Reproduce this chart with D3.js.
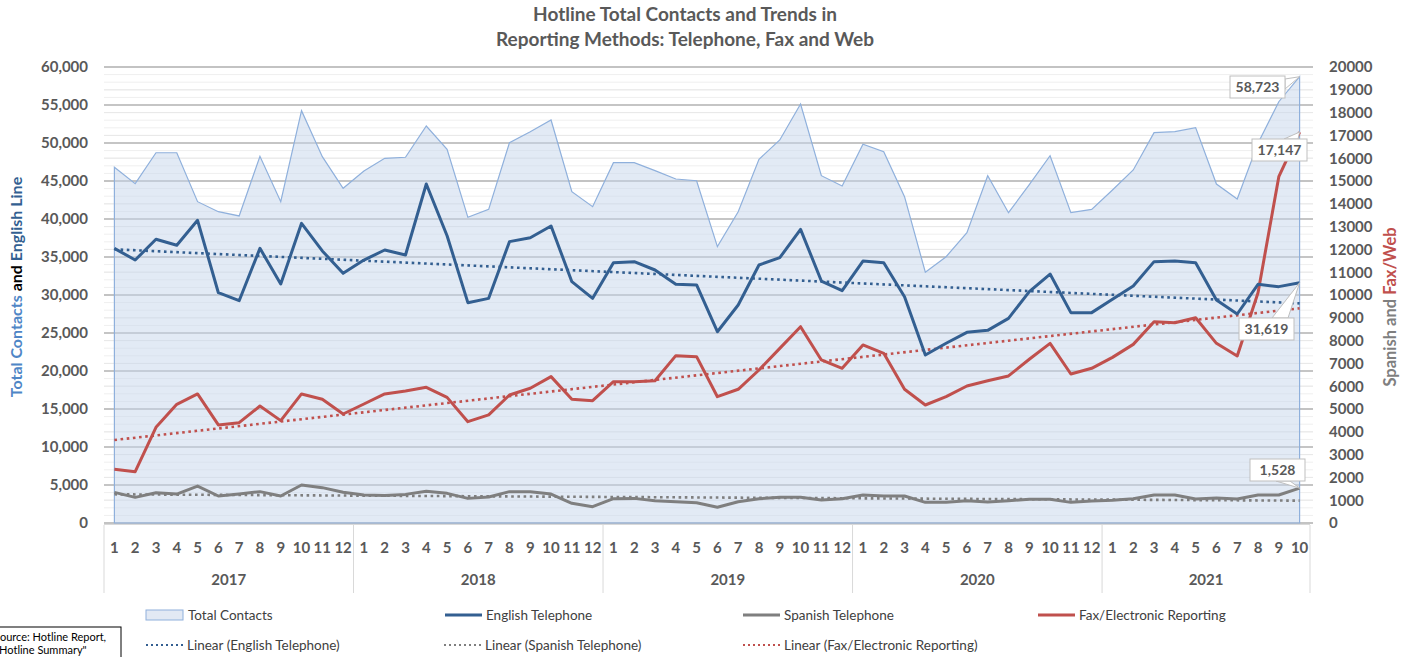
<!DOCTYPE html>
<html>
<head>
<meta charset="utf-8">
<script src="https://cdn.jsdelivr.net/npm/d3@7"></script>
<style>
  body { margin: 0; background: #fff; }
  svg { display: block; }
  text { font-family: Lato, "Open Sans", sans-serif; }
</style>
</head>
<body>
<script>
// values
var years = ["2017", "2018", "2019", "2020", "2021"];
var monthsPerYear = [12, 12, 12, 12, 10];
var months = [];
monthsPerYear.forEach(n => { for (var m = 1; m <= n; m++) months.push(String(m)); });

var totalContacts = [46800, 44650, 48720, 48720, 42280, 40960, 40400, 48250, 42280, 54250, 48200, 44040,
  46320, 47990, 48120, 52240, 49170, 40220, 41270, 50040, 51490, 53030, 43600, 41620,
  47410, 47410, 46360, 45260, 45040, 36360, 40960, 47850, 50400, 55130, 45700, 44340,
  49830, 48860, 42940, 32990, 35040, 38200, 45700, 40830, 44510, 48330, 40830, 41270,
  43820, 46450, 51360, 51490, 52020, 44600, 42630, 49960, 55430, 58723];
var englishPhone = [36140, 34600, 37330, 36540, 39830, 30300, 29250, 36140, 31450, 39430, 35800, 32850,
  34600, 35920, 35260, 44600, 37800, 28990, 29560, 37020, 37540, 39080, 31750, 29560,
  34250, 34390, 33290, 31410, 31320, 25170, 28680, 33950, 34910, 38640, 31840, 30570,
  34470, 34250, 29780, 22100, 23650, 25090, 25350, 26930, 30440, 32760, 27680, 27680,
  29430, 31180, 34390, 34470, 34250, 29340, 27500, 31400, 31100, 31619];
var spanishPhone = [1345, 1125, 1330, 1270, 1620, 1185, 1270, 1375, 1185, 1665, 1550, 1345,
  1230, 1210, 1255, 1390, 1300, 1080, 1140, 1375, 1375, 1270, 865, 715,
  1065, 1080, 980, 935, 890, 690, 935, 1065, 1125, 1125, 1010, 1065,
  1230, 1185, 1185, 905, 905, 980, 920, 980, 1040, 1040, 905, 965,
  995, 1065, 1230, 1230, 1055, 1095, 1055, 1230, 1230, 1528];
var faxWeb = [2355, 2250, 4195, 5205, 5660, 4300, 4400, 5130, 4490, 5660, 5425, 4780,
  5220, 5660, 5790, 5950, 5510, 4445, 4740, 5615, 5910, 6420, 5425, 5365,
  6200, 6200, 6240, 7340, 7295, 5540, 5865, 6710, 7660, 8610, 7150, 6785,
  7810, 7440, 5865, 5175, 5540, 6010, 6240, 6450, 7180, 7880, 6535, 6785,
  7265, 7835, 8830, 8785, 9005, 7880, 7325, 10100, 15190, 17147];

// linear trendlines: value at first and last month
var englishTrend = [36010, 28900];
var spanishTrend = [1258, 980];
var faxTrend = [3640, 9415];

var leftTicks = d3.range(0, 60001, 5000);
var rightTicks = d3.range(0, 20001, 1000);

var blue = "#335f91", red = "#c0504d", gray = "#7f7f7f";
var areaFill = "#c5d5ec", areaLine = "#8fb0dc", textCol = "#595959";

var width = 1413, height = 657;
var plotLeft = 104, plotRight = 1310, plotTop = 67, plotBottom = 523;

var svg = d3.select("body").append("svg")
  .attr("width", width)
  .attr("height", height);

var x = d3.scaleBand().domain(d3.range(months.length)).range([plotLeft, plotRight]);
var cx = i => x(i) + x.bandwidth() / 2;
var yL = d3.scaleLinear().domain([0, 60000]).range([plotBottom, plotTop]);
var yR = d3.scaleLinear().domain([0, 20000]).range([plotBottom, plotTop]);

// title
svg.append("text").attr("x", 685).attr("y", 21).attr("text-anchor", "middle")
  .attr("font-size", 19).attr("font-weight", "bold").attr("fill", textCol)
  .text("Hotline Total Contacts and Trends in");
svg.append("text").attr("x", 685).attr("y", 46).attr("text-anchor", "middle")
  .attr("font-size", 19).attr("font-weight", "bold").attr("fill", textCol)
  .text("Reporting Methods: Telephone, Fax and Web");

// gridlines
var grid = svg.append("g");
grid.selectAll(".minor").data(d3.range(0, 60001, 1000))
  .enter().append("line")
  .attr("x1", plotLeft).attr("x2", plotRight + 3)
  .attr("y1", d => yL(d)).attr("y2", d => yL(d))
  .attr("stroke", "#efefef").attr("stroke-width", 1);
grid.selectAll(".rminor").data(rightTicks)
  .enter().append("line")
  .attr("x1", plotLeft).attr("x2", plotRight + 3)
  .attr("y1", d => yR(d)).attr("y2", d => yR(d))
  .attr("stroke", "#e8e8e8").attr("stroke-width", 1);
grid.selectAll(".major").data(leftTicks)
  .enter().append("line")
  .attr("x1", plotLeft).attr("x2", plotRight + 3)
  .attr("y1", d => yL(d)).attr("y2", d => yL(d))
  .attr("stroke", "#b5b5b5").attr("stroke-width", 1.3);

// total contacts area
var area = d3.area()
  .x((d, i) => cx(i))
  .y0(plotBottom)
  .y1(d => yL(d));
svg.append("path")
  .attr("d", area(totalContacts))
  .attr("fill", areaFill).attr("fill-opacity", 0.5)
  .attr("stroke", areaLine).attr("stroke-width", 1.2);

// trendlines
var trend = (vals, scale) => d3.line()
  .x(d => cx(d[0]))
  .y(d => scale(d[1]))([[0, vals[0]], [months.length - 1, vals[1]]]);
[[spanishTrend, yR, gray], [faxTrend, yR, red], [englishTrend, yL, blue]].forEach(t => {
  svg.append("path")
    .attr("d", trend(t[0], t[1]))
    .attr("fill", "none").attr("stroke", t[2])
    .attr("stroke-width", 2.6).attr("stroke-dasharray", "2.6,3.6");
});

// series lines
var lineL = d3.line().x((d, i) => cx(i)).y(d => yL(d));
var lineR = d3.line().x((d, i) => cx(i)).y(d => yR(d));
svg.append("path").attr("d", lineR(spanishPhone))
  .attr("fill", "none").attr("stroke", gray).attr("stroke-width", 3).attr("stroke-linejoin", "round");
svg.append("path").attr("d", lineR(faxWeb))
  .attr("fill", "none").attr("stroke", red).attr("stroke-width", 3).attr("stroke-linejoin", "round");
svg.append("path").attr("d", lineL(englishPhone))
  .attr("fill", "none").attr("stroke", blue).attr("stroke-width", 3).attr("stroke-linejoin", "round");

// left axis
var axL = svg.append("g").attr("transform", "translate(" + plotLeft + ",0)")
  .call(d3.axisLeft(yL).tickValues(leftTicks).tickFormat(d3.format(",")).tickSize(0).tickPadding(16));
axL.select(".domain").remove();
axL.selectAll("text").attr("font-size", 15).attr("font-weight", "bold").attr("fill", textCol)
  .attr("font-family", "Lato, sans-serif");

// right axis
var axR = svg.append("g").attr("transform", "translate(" + plotRight + ",0)")
  .call(d3.axisRight(yR).tickValues(rightTicks).tickFormat(d3.format("d")).tickSize(0).tickPadding(19));
axR.select(".domain").remove();
axR.selectAll("text").attr("font-size", 15).attr("font-weight", "bold").attr("fill", textCol)
  .attr("font-family", "Lato, sans-serif");

// category axis (months + years)
svg.append("line").attr("x1", plotLeft).attr("x2", plotRight).attr("y1", plotBottom + 1.5).attr("y2", plotBottom + 1.5)
  .attr("stroke", "#d9d9d9");
var axX = svg.append("g").attr("transform", "translate(0," + plotBottom + ")")
  .call(d3.axisBottom(x).tickFormat(i => months[i]).tickSize(0).tickPadding(19));
axX.select(".domain").remove();
axX.selectAll("text").attr("font-size", 15).attr("font-weight", "bold").attr("fill", textCol)
  .attr("font-family", "Lato, sans-serif");

var start = 0;
var bounds = [0];
monthsPerYear.forEach(n => { start += n; bounds.push(start); });
var bx = k => bounds[k] < months.length ? x(bounds[k]) : plotRight;
svg.selectAll(".ysep").data(bounds).enter().append("line")
  .attr("x1", (d, k) => bx(k)).attr("x2", (d, k) => bx(k))
  .attr("y1", plotBottom + 2).attr("y2", 593)
  .attr("stroke", "#d9d9d9");
svg.selectAll(".ylab").data(years).enter().append("text")
  .attr("x", (d, k) => (bx(k) + bx(k + 1)) / 2)
  .attr("y", 585).attr("text-anchor", "middle")
  .attr("font-size", 15).attr("font-weight", "bold").attr("fill", textCol)
  .text(d => d);

// axis titles
var lt = svg.append("text").attr("transform", "translate(22,287) rotate(-90)")
  .attr("text-anchor", "middle").attr("font-size", 16).attr("font-weight", "bold");
lt.append("tspan").attr("fill", "#4f86c6").text("Total Contacts ");
lt.append("tspan").attr("fill", "#000").text("and ");
lt.append("tspan").attr("fill", blue).text("English Line");
var rt = svg.append("text").attr("transform", "translate(1396,307) rotate(-90)")
  .attr("text-anchor", "middle").attr("font-size", 16.5).attr("font-weight", "bold");
rt.append("tspan").attr("fill", gray).text("Spanish and ");
rt.append("tspan").attr("fill", red).text("Fax/Web");

// callouts on the last month
var last = months.length - 1;
var callouts = [
  { v: totalContacts[last], y: yL(totalContacts[last]), bx: 1230, by: 76, tail: [[1285, 79], [1285, 89]] },
  { v: faxWeb[last], y: yR(faxWeb[last]), bx: 1252, by: 139, tail: [[1284, 139], [1298, 139]] },
  { v: englishPhone[last], y: yL(englishPhone[last]), bx: 1239, by: 318, tail: [[1272, 318], [1288, 318]] },
  { v: spanishPhone[last], y: yR(spanishPhone[last]), bx: 1250, by: 459, tail: [[1276, 481], [1290, 481]] }
];
callouts.forEach(c => {
  var px = cx(last);
  svg.append("path")
    .attr("d", "M" + c.tail[0] + "L" + px + "," + c.y + "L" + c.tail[1] + "Z")
    .attr("fill", "#fff").attr("stroke", "#bfbfbf");
  svg.append("rect").attr("x", c.bx).attr("y", c.by).attr("width", 55).attr("height", 22)
    .attr("fill", "#fff").attr("stroke", "#bfbfbf");
  svg.append("text").attr("x", c.bx + 27.5).attr("y", c.by + 16).attr("text-anchor", "middle")
    .attr("font-size", 14).attr("font-weight", "bold").attr("fill", textCol)
    .text(d3.format(",")(c.v));
});

// legend
var legendItems = [
  { label: "Total Contacts", kind: "area", color: areaLine, x: 146, y: 615 },
  { label: "English Telephone", kind: "line", color: blue, x: 445, y: 615 },
  { label: "Spanish Telephone", kind: "line", color: gray, x: 743, y: 615 },
  { label: "Fax/Electronic Reporting", kind: "line", color: red, x: 1038, y: 615 },
  { label: "Linear (English Telephone)", kind: "dot", color: blue, x: 146, y: 645 },
  { label: "Linear (Spanish Telephone)", kind: "dot", color: gray, x: 444, y: 645 },
  { label: "Linear (Fax/Electronic Reporting)", kind: "dot", color: red, x: 743, y: 645 }
];
legendItems.forEach(d => {
  var g = svg.append("g").attr("transform", "translate(" + d.x + "," + d.y + ")");
  if (d.kind == "area") {
    g.append("rect").attr("x", 0).attr("y", -5).attr("width", 37).attr("height", 10)
      .attr("fill", "#e2e9f4").attr("stroke", d.color);
  } else {
    g.append("line").attr("x1", 0).attr("x2", 37).attr("y1", 0).attr("y2", 0)
      .attr("stroke", d.color)
      .attr("stroke-width", d.kind == "dot" ? 2 : 3)
      .attr("stroke-dasharray", d.kind == "dot" ? "2,3" : null);
  }
  g.append("text").attr("x", d.kind == "area" ? 42 : 41).attr("y", 4.5)
    .attr("font-size", 13.5).attr("fill", "#404040").text(d.label);
});

// source note (cut off at the left edge)
svg.append("rect").attr("x", -30).attr("y", 627).attr("width", 151).attr("height", 40)
  .attr("fill", "#fff").attr("stroke", "#000");
svg.append("text").attr("x", -6).attr("y", 641).attr("font-size", 11).attr("fill", "#000")
  .text("Source: Hotline Report,");
svg.append("text").attr("x", -5).attr("y", 654).attr("font-size", 11).attr("fill", "#000")
  .text("\"Hotline Summary\"");
</script>
</body>
</html>
